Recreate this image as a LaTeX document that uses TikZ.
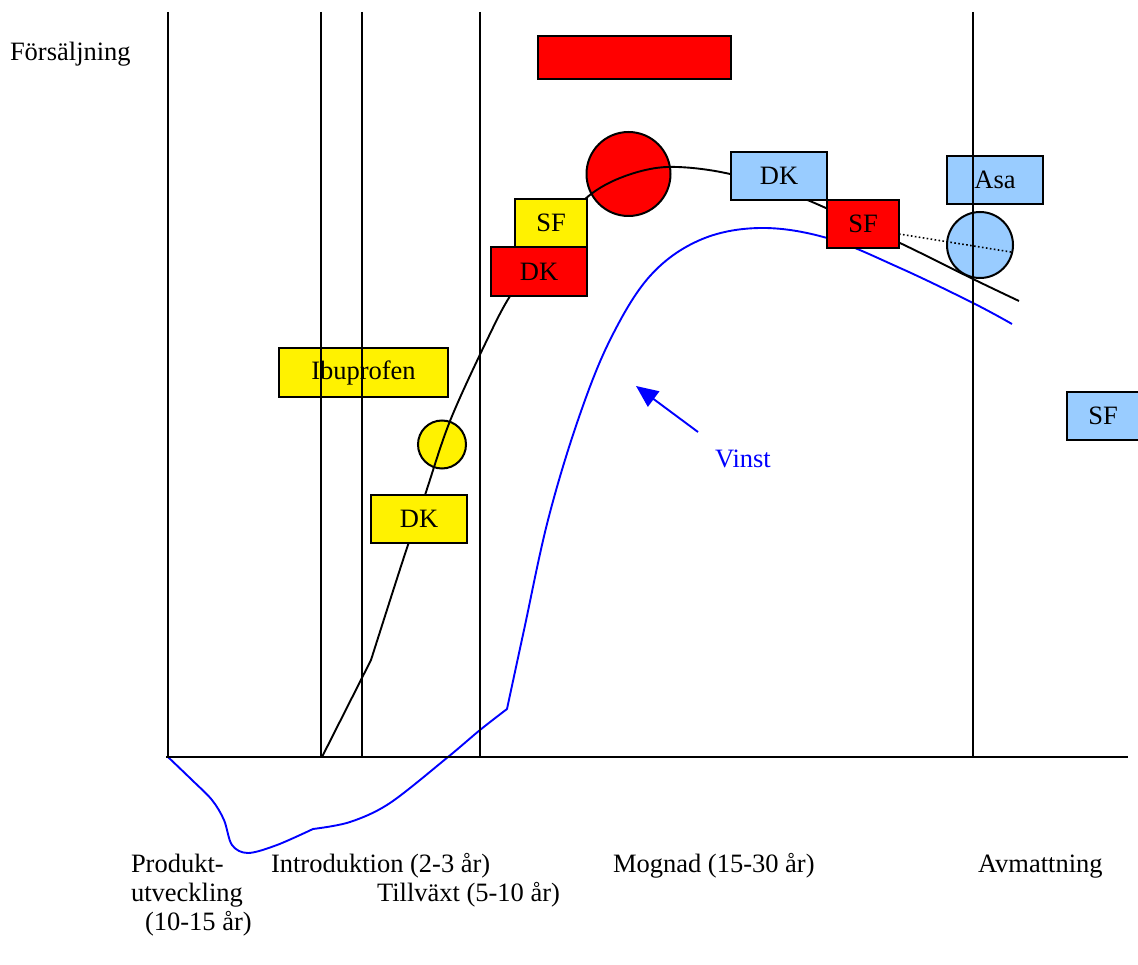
\documentclass[tikz,border=0pt]{standalone}
\usepackage{fontspec}
\setmainfont{Liberation Serif}
\usetikzlibrary{arrows.meta}
\definecolor{lblue}{RGB}{153,204,255}
\begin{document}
\begin{tikzpicture}[x=1pt,y=-1pt,
  every node/.style={font=\fontsize{26.5}{29}\selectfont, inner sep=0pt, outer sep=0pt},
  bx/.style={draw=black, line width=2pt, rectangle, minimum height=48pt},
  circ/.style={draw=black, line width=2pt, circle},
  grid/.style={line width=2pt},
  sales/.style={line width=1.9pt, black},
  profit/.style={line width=1.9pt, blue},
  lbl/.style={anchor=base west}
]
\useasboundingbox (0,0) rectangle (1138,965);

% circles
\node[circ, fill=red, minimum size=84pt] (rc) at (628.5,174) {};
\node[circ, fill=lblue, minimum size=66pt] (bc) at (980,245) {};
\node[circ, fill=yellow, minimum size=48pt] (yc) at (442,444.5) {};

% sales curve
\draw[sales, line join=round] (322,757) -- (371,660)
  plot[smooth, tension=0.55] coordinates {(371,660) (403,560) (425,495) (450,421) (487,340) (512,293) (550,243) (584,200) (620,178) (667,167) (730,174) (805,199) (900,243) (973,279) (1019,301)};

% profit curve
\draw[profit, line join=round]
  plot[smooth, tension=0.55] coordinates {(168,757) (192,780) (212,800) (224,820) (232,845) (248,853) (277,845) (313,829)}
  -- plot[smooth, tension=0.55] coordinates {(313,829) (350,822) (390,803) (448,757) (480,730) (507,709)}
  -- plot[smooth, tension=0.6] coordinates {(507,709) (524,630) (548,520) (578,420) (610,340) (650,276) (700,240) (760,228) (827,238) (900,268) (973,303) (1012,324)};

% boxes
\node[bx, fill=red, minimum width=193pt, minimum height=43pt] (topred) at (634.5,57.5) {};
\node[bx, fill=lblue, minimum width=96pt] (bdk) at (779,176) {DK};
\node[bx, fill=yellow, minimum width=72pt] (ysf) at (551,223) {SF};
\node[bx, fill=red, minimum width=96pt, minimum height=49pt] (rdk) at (539,271.5) {DK};
\node[bx, fill=red, minimum width=72pt] (rsf) at (863,224) {SF};
\node[bx, fill=lblue, minimum width=96pt] (asa) at (995,180) {\raisebox{-3pt}{Asa}};
\node[bx, fill=yellow, minimum width=169pt, minimum height=49pt] (ibu) at (363.5,372.5) {Ibuprofen};
\node[bx, fill=yellow, minimum width=96pt] (ydk) at (419,519) {DK};
\node[bx, fill=lblue, minimum width=72pt] (bsf) at (1103,416) {SF};

% dotted line
\coordinate (dotstart) at (899,234);
\coordinate (dotend) at (1011,252);
\draw[line width=1.6pt, dash pattern=on 1.6pt off 2.4pt] (dotstart) -- (dotend);

% vertical lines and axis
\coordinate (v1t) at (168,12); \coordinate (v1b) at (168,757);
\coordinate (v2t) at (321,12); \coordinate (v2b) at (321,757);
\coordinate (v3t) at (362,12); \coordinate (v3b) at (362,757);
\coordinate (v4t) at (480,12); \coordinate (v4b) at (480,757);
\coordinate (v5t) at (973,12); \coordinate (v5b) at (973,757);
\coordinate (axl) at (166,757); \coordinate (axr) at (1128,757);
\draw[grid] (v1t) -- (v1b);
\draw[grid] (v2t) -- (v2b);
\draw[grid] (v3t) -- (v3b);
\draw[grid] (v4t) -- (v4b);
\draw[grid] (v5t) -- (v5b);
\draw[grid] (axl) -- (axr);

% arrow and Vinst
\node[lbl, text=blue] (vinst) at (715,467) {Vinst};
\coordinate (arrtail) at (698,432);
\coordinate (arrtip) at (636,386);
\draw[profit, -{Triangle[length=22pt,width=19pt]}] (arrtail) -- (arrtip);

% labels
\node[lbl] (fors) at (10,61) {Försäljning};
\node[lbl] (prod1) at (131,872) {Produkt-};
\node[lbl] (prod2) at (131,901) {utveckling};
\node[lbl] (prod3) at (145,930) {(10-15 år)};
\node[lbl] (intro) at (271,872) {Introduktion (2-3 år)};
\node[lbl] (till) at (377,901) {Tillväxt (5-10 år)};
\node[lbl] (mogn) at (613,872) {Mognad (15-30 år)};
\node[lbl] (avm) at (978,872) {Avmattning};
\end{tikzpicture}
\end{document}
